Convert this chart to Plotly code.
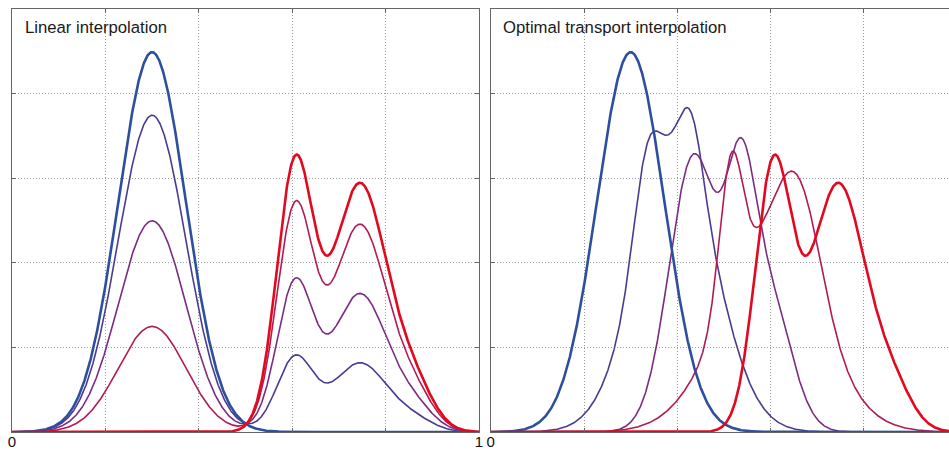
import numpy as np
import plotly.graph_objects as go

# ---------------- data ----------------
# Source density (blue): one Gaussian bump
src_amp = [4.49]
src_mu = [0.300]
src_sd = [0.0724]

# Target density (red): bimodal, described by Gaussian components
tgt_amp = [3.09, 2.928, 0.470]
tgt_mu = [0.6056, 0.7447, 0.8601]
tgt_sd = [0.0391, 0.0586, 0.0430]

# Linear interpolation: weights of source / target for the five curves
lin_w_src = [1.0, 0.834, 0.556, 0.278, 0.0]
lin_w_tgt = [0.0, 0.278, 0.556, 0.834, 1.0]

# Optimal transport interpolation: intermediate curves (Gaussian components)
ot1_amp = [0.916, 0.706, 3.294]
ot1_mu = [0.3329, 0.4305, 0.3981]
ot1_sd = [0.0275, 0.0243, 0.0842]

ot2_amp = [3.266, 2.194, 1.597]
ot2_mu = [0.4355, 0.5356, 0.5947]
ot2_sd = [0.0525, 0.0318, 0.0483]

ot3_amp = [1.691, 1.202, 2.157]
ot3_mu = [0.5151, 0.6611, 0.5974]
ot3_sd = [0.0246, 0.0475, 0.1055]

panel_titles = ["Linear interpolation", "Optimal transport interpolation"]
x_tickvals = [0, 0.2, 0.4, 0.6, 0.8, 1]
x_ticktext = ["0", "", "", "", "", "1"]
y_tickvals = [1, 2, 3, 4]

colors = ['#2d4f9e', '#4a3b90', '#7a2c82', '#b31a55', '#e2091f']
widths = [2.6, 1.6, 1.6, 1.6, 2.6]


def density(amp, mu, sd, x):
    y = np.zeros_like(x)
    for a, m, s in zip(amp, mu, sd):
        y = y + a * np.exp(-0.5 * ((x - m) / s) ** 2)
    return y


x = np.linspace(0, 1, 1201)
src = density(src_amp, src_mu, src_sd, x)
tgt = density(tgt_amp, tgt_mu, tgt_sd, x)

lin_curves = [ws * src + wt * tgt for ws, wt in zip(lin_w_src, lin_w_tgt)]
ot_curves = [src,
             density(ot1_amp, ot1_mu, ot1_sd, x),
             density(ot2_amp, ot2_mu, ot2_sd, x),
             density(ot3_amp, ot3_mu, ot3_sd, x),
             tgt]

fig = go.Figure()
order = [1, 2, 3, 0, 4]
for i in order:
    fig.add_trace(go.Scatter(x=x, y=lin_curves[i], mode='lines',
                             line=dict(color=colors[i], width=widths[i]),
                             xaxis='x', yaxis='y', hoverinfo='skip'))
for i in order:
    fig.add_trace(go.Scatter(x=x, y=ot_curves[i], mode='lines',
                             line=dict(color=colors[i], width=widths[i]),
                             xaxis='x2', yaxis='y2', hoverinfo='skip'))

font_family = 'Liberation Sans, Arial, Helvetica, sans-serif'
ax = dict(showgrid=True, gridcolor='#9a9a9a', griddash='1px,2px', gridwidth=1,
          zeroline=False, showline=True, linecolor='#666666', linewidth=1.4,
          ticks='inside', ticklen=4, tickcolor='#666666', tickwidth=1, automargin=False,
          tickfont=dict(family=font_family, size=15, color='#111'))
xax = dict(ax, tickvals=x_tickvals, ticktext=x_ticktext, ticklabelstandoff=-4)
yax = dict(ax, range=[0, 5], tickvals=y_tickvals, showticklabels=False)

fig.update_layout(
    width=949, height=450,
    margin=dict(l=12, r=0, t=9, b=18, autoexpand=False),
    showlegend=False,
    paper_bgcolor='white', plot_bgcolor='white',
    xaxis=dict(xax, domain=[0, 0.4984], range=[0, 1], mirror='ticks', anchor='y'),
    yaxis=dict(yax, domain=[0, 1], mirror='ticks', anchor='x'),
    xaxis2=dict(xax, domain=[0.5109, 1], range=[0, 0.9824], mirror='ticks', anchor='y2'),
    yaxis2=dict(yax, domain=[0, 1], mirror=False, anchor='x2'),
)

title_x = [0.0117, 0.5219]
for t, xp in zip(panel_titles, title_x):
    fig.add_annotation(x=xp, y=0.957, xref='paper', yref='paper', xanchor='left', yanchor='middle',
                       showarrow=False, text=t,
                       font=dict(family=font_family, size=16.7, color='#1a1a1a'))

fig.write_html("out.html",
               config={'displayModeBar': False},
               post_script="document.body.style.margin='0px';document.body.style.padding='0px';"
                           "document.body.style.overflow='hidden';")
